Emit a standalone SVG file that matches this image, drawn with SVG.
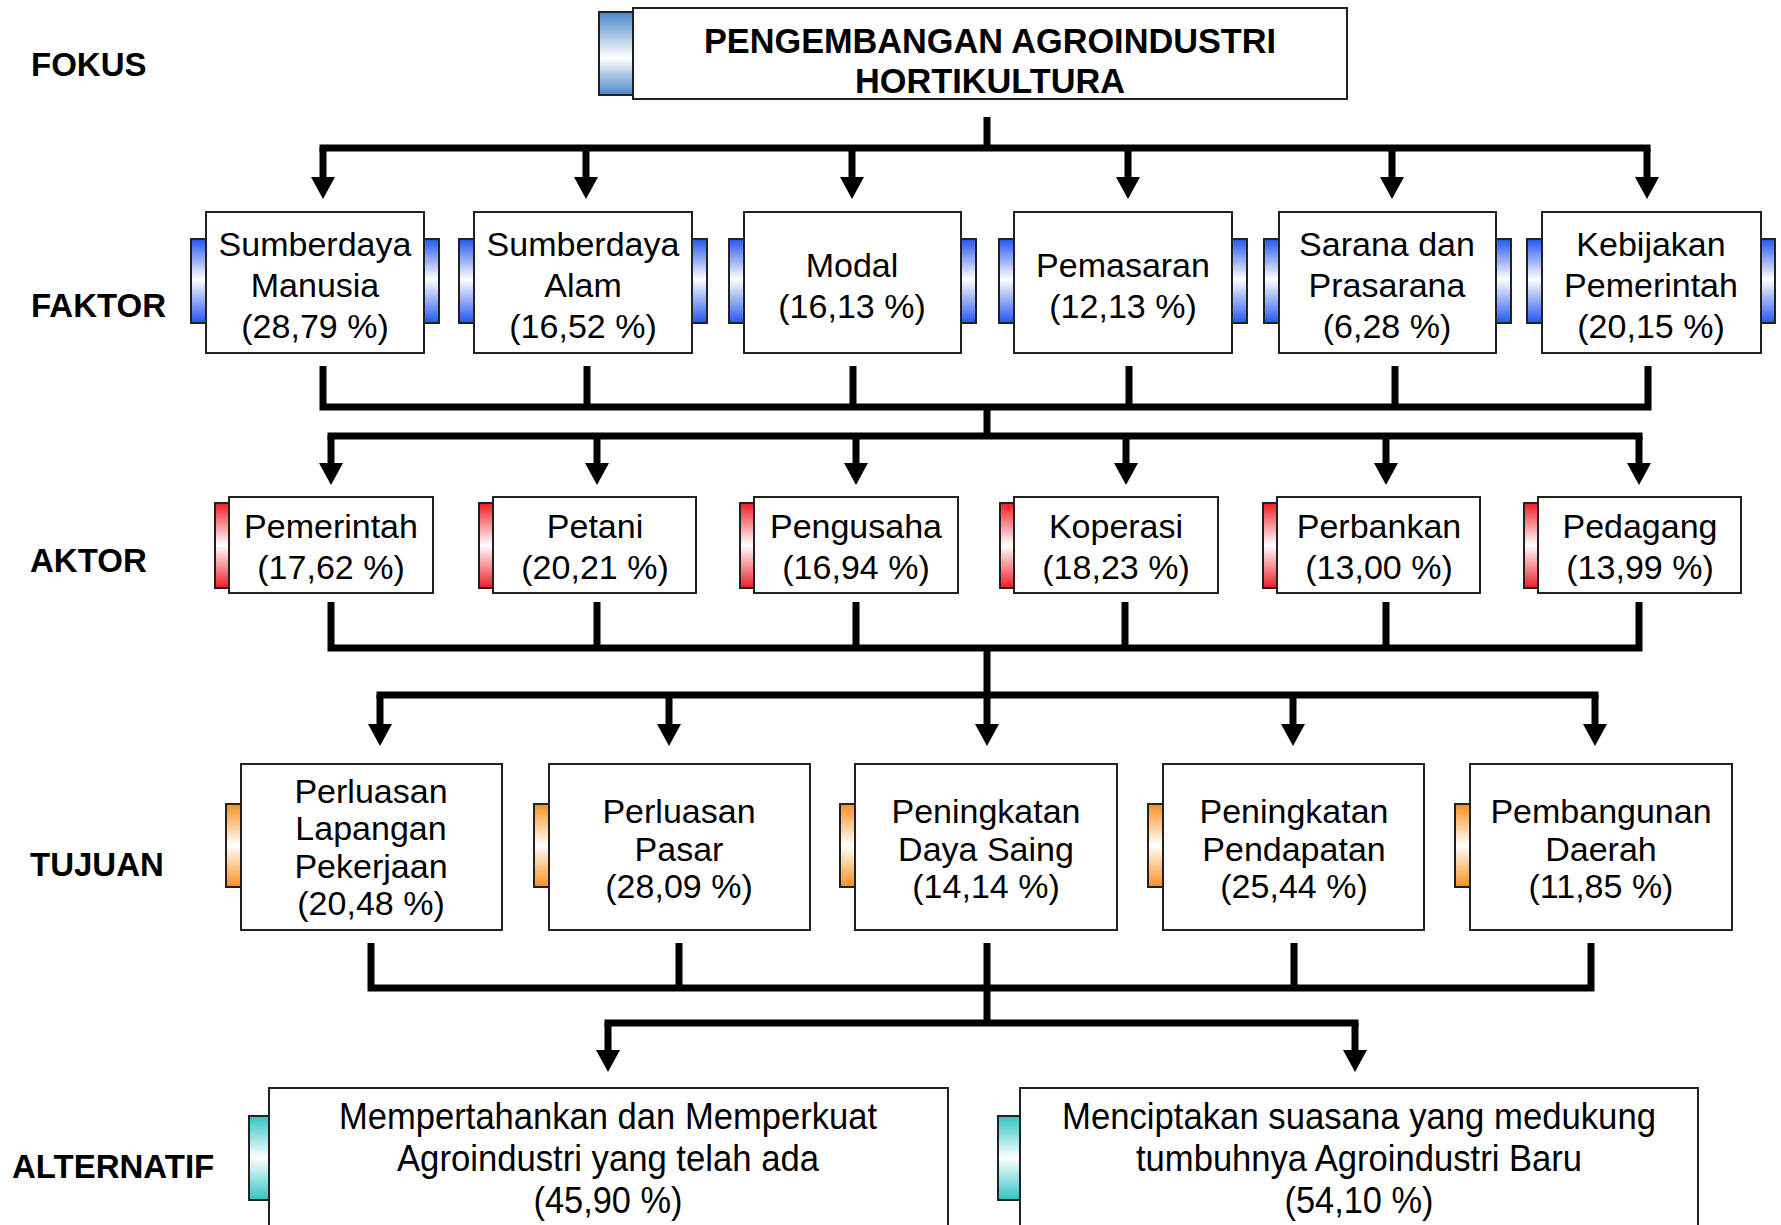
<svg xmlns="http://www.w3.org/2000/svg" width="1781" height="1225" viewBox="0 0 1781 1225">
  <style>
    .lvl { font-family: "Liberation Sans", Arial, sans-serif; font-weight: bold; font-size: 33px; fill: #000; }
    .t { font-family: "Liberation Sans", Arial, sans-serif; font-size: 34px; fill: #000; text-anchor: middle; }
    .tf { font-family: "Liberation Sans", Arial, sans-serif; font-weight: bold; font-size: 35px; fill: #000; text-anchor: middle; }
    .ta { font-family: "Liberation Sans", Arial, sans-serif; font-size: 36px; fill: #000; text-anchor: middle; }
    .box { fill: #fff; stroke: #222; stroke-width: 2; }
    .bar { stroke: #222; stroke-width: 2; }
    .c { fill: none; stroke: #000; stroke-width: 7; stroke-linecap: butt; stroke-linejoin: miter; }
    .a { fill: none; stroke: #000; stroke-width: 7; marker-end: url(#head); }
  </style>
  <defs>
    <marker id="head" markerUnits="userSpaceOnUse" markerWidth="22" markerHeight="24" viewBox="0 0 22 24" refX="0" refY="12" orient="auto">
      <path d="M0,0 L22,12 L0,24 Z" fill="#000"/>
    </marker>
    <linearGradient id="gFocus" x1="0" y1="0" x2="0" y2="1">
      <stop offset="0" stop-color="#4a87c8"/>
      <stop offset="0.55" stop-color="#ffffff"/>
      <stop offset="1" stop-color="#4a87c8"/>
    </linearGradient>
    <linearGradient id="gBlue" x1="0" y1="0" x2="0" y2="1">
      <stop offset="0" stop-color="#2455ee"/>
      <stop offset="0.48" stop-color="#ffffff"/>
      <stop offset="1" stop-color="#2455ee"/>
    </linearGradient>
    <linearGradient id="gRed" x1="0" y1="0" x2="0" y2="1">
      <stop offset="0" stop-color="#ee1c24"/>
      <stop offset="0.5" stop-color="#ffffff"/>
      <stop offset="1" stop-color="#ee1c24"/>
    </linearGradient>
    <linearGradient id="gOrange" x1="0" y1="0" x2="0" y2="1">
      <stop offset="0" stop-color="#f7901e"/>
      <stop offset="0.5" stop-color="#ffffff"/>
      <stop offset="1" stop-color="#f7901e"/>
    </linearGradient>
    <linearGradient id="gTeal" x1="0" y1="0" x2="0" y2="1">
      <stop offset="0" stop-color="#2ec4c4"/>
      <stop offset="0.5" stop-color="#ffffff"/>
      <stop offset="1" stop-color="#2ec4c4"/>
    </linearGradient>
  </defs>

  <rect width="1781" height="1225" fill="#fff"/>

  <!-- level labels -->
  <g id="levels">
    <text class="lvl" x="31" y="76">FOKUS</text>
    <text class="lvl" x="31" y="317">FAKTOR</text>
    <text class="lvl" x="30" y="572">AKTOR</text>
    <text class="lvl" x="30" y="876">TUJUAN</text>
    <text class="lvl" x="12" y="1178">ALTERNATIF</text>
  </g>

  <!-- connectors -->
  <g id="connectors">
    <!-- focus to factors -->
    <path class="c" d="M987,117 V148 M319.5,148 H1650.5"/>
    <path class="a" d="M323,148 V177"/>
    <path class="a" d="M586,148 V177"/>
    <path class="a" d="M852,148 V177"/>
    <path class="a" d="M1128,148 V177"/>
    <path class="a" d="M1392,148 V177"/>
    <path class="a" d="M1647,148 V177"/>

    <!-- factors to actors -->
    <path class="c" d="M323,366 V407 M587,366 V407 M853,366 V407 M1129,366 V407 M1395,366 V407 M1648,366 V407 M319.5,407 H1651.5 M987,407 V436 M327.5,436 H1642.5"/>
    <path class="a" d="M331,436 V463"/>
    <path class="a" d="M597,436 V463"/>
    <path class="a" d="M856,436 V463"/>
    <path class="a" d="M1126,436 V463"/>
    <path class="a" d="M1386,436 V463"/>
    <path class="a" d="M1639,436 V463"/>

    <!-- actors to goals -->
    <path class="c" d="M331,602 V648 M597,602 V648 M856,602 V648 M1125,602 V648 M1386,602 V648 M1639,602 V648 M327.5,648 H1642.5 M376.5,695 H1598.5"/>
    <path class="a" d="M987,648 V724"/>
    <path class="a" d="M380,695 V724"/>
    <path class="a" d="M669,695 V724"/>
    <path class="a" d="M1293,695 V724"/>
    <path class="a" d="M1595,695 V724"/>

    <!-- goals to alternatives -->
    <path class="c" d="M371,943 V988 M679,943 V988 M987,943 V988 M1294,943 V988 M1591,943 V988 M367.5,988 H1594.5 M987,988 V1023 M604.5,1023 H1358.5"/>
    <path class="a" d="M608,1023 V1050"/>
    <path class="a" d="M1355,1023 V1050"/>
  </g>

  <!-- focus -->
  <g id="focus">
    <rect class="bar" x="599" y="12" width="34" height="83" fill="url(#gFocus)"/>
    <rect class="box" x="633" y="8" width="714" height="91"/>
    <text class="tf" x="990" y="53" textLength="572" lengthAdjust="spacingAndGlyphs">PENGEMBANGAN AGROINDUSTRI</text>
    <text class="tf" x="990" y="93" textLength="270" lengthAdjust="spacingAndGlyphs">HORTIKULTURA</text>
  </g>

  <!-- factors -->
  <g id="faktor-sdm">
    <rect class="bar" x="191" y="239" width="15" height="84" fill="url(#gBlue)"/>
    <rect class="bar" x="424" y="239" width="15" height="84" fill="url(#gBlue)"/>
    <rect class="box" x="206" y="212" width="218" height="141"/>
    <text class="t" x="315" y="256">Sumberdaya</text>
    <text class="t" x="315" y="297">Manusia</text>
    <text class="t" x="315" y="338">(28,79 %)</text>
  </g>
  <g id="faktor-sda">
    <rect class="bar" x="459" y="239" width="15" height="84" fill="url(#gBlue)"/>
    <rect class="bar" x="692" y="239" width="15" height="84" fill="url(#gBlue)"/>
    <rect class="box" x="474" y="212" width="218" height="141"/>
    <text class="t" x="583" y="256">Sumberdaya</text>
    <text class="t" x="583" y="297">Alam</text>
    <text class="t" x="583" y="338">(16,52 %)</text>
  </g>
  <g id="faktor-modal">
    <rect class="bar" x="729" y="239" width="15" height="84" fill="url(#gBlue)"/>
    <rect class="bar" x="961" y="239" width="15" height="84" fill="url(#gBlue)"/>
    <rect class="box" x="744" y="212" width="217" height="141"/>
    <text class="t" x="852" y="277">Modal</text>
    <text class="t" x="852" y="318">(16,13 %)</text>
  </g>
  <g id="faktor-pemasaran">
    <rect class="bar" x="999" y="239" width="15" height="84" fill="url(#gBlue)"/>
    <rect class="bar" x="1232" y="239" width="15" height="84" fill="url(#gBlue)"/>
    <rect class="box" x="1014" y="212" width="218" height="141"/>
    <text class="t" x="1123" y="277">Pemasaran</text>
    <text class="t" x="1123" y="318">(12,13 %)</text>
  </g>
  <g id="faktor-sarana">
    <rect class="bar" x="1264" y="239" width="15" height="84" fill="url(#gBlue)"/>
    <rect class="bar" x="1496" y="239" width="15" height="84" fill="url(#gBlue)"/>
    <rect class="box" x="1279" y="212" width="217" height="141"/>
    <text class="t" x="1387" y="256">Sarana dan</text>
    <text class="t" x="1387" y="297">Prasarana</text>
    <text class="t" x="1387" y="338">(6,28 %)</text>
  </g>
  <g id="faktor-kebijakan">
    <rect class="bar" x="1527" y="239" width="15" height="84" fill="url(#gBlue)"/>
    <rect class="bar" x="1761" y="239" width="14" height="84" fill="url(#gBlue)"/>
    <rect class="box" x="1542" y="212" width="219" height="141"/>
    <text class="t" x="1651" y="256">Kebijakan</text>
    <text class="t" x="1651" y="297">Pemerintah</text>
    <text class="t" x="1651" y="338">(20,15 %)</text>
  </g>

  <!-- actors -->
  <g id="aktor-pemerintah">
    <rect class="bar" x="215" y="503" width="14" height="85" fill="url(#gRed)"/>
    <rect class="box" x="229" y="497" width="204" height="96"/>
    <text class="t" x="331" y="538">Pemerintah</text>
    <text class="t" x="331" y="579">(17,62 %)</text>
  </g>
  <g id="aktor-petani">
    <rect class="bar" x="479" y="503" width="14" height="85" fill="url(#gRed)"/>
    <rect class="box" x="493" y="497" width="203" height="96"/>
    <text class="t" x="595" y="538">Petani</text>
    <text class="t" x="595" y="579">(20,21 %)</text>
  </g>
  <g id="aktor-pengusaha">
    <rect class="bar" x="740" y="503" width="14" height="85" fill="url(#gRed)"/>
    <rect class="box" x="754" y="497" width="204" height="96"/>
    <text class="t" x="856" y="538">Pengusaha</text>
    <text class="t" x="856" y="579">(16,94 %)</text>
  </g>
  <g id="aktor-koperasi">
    <rect class="bar" x="1000" y="503" width="14" height="85" fill="url(#gRed)"/>
    <rect class="box" x="1014" y="497" width="204" height="96"/>
    <text class="t" x="1116" y="538">Koperasi</text>
    <text class="t" x="1116" y="579">(18,23 %)</text>
  </g>
  <g id="aktor-perbankan">
    <rect class="bar" x="1263" y="503" width="14" height="85" fill="url(#gRed)"/>
    <rect class="box" x="1277" y="497" width="203" height="96"/>
    <text class="t" x="1379" y="538">Perbankan</text>
    <text class="t" x="1379" y="579">(13,00 %)</text>
  </g>
  <g id="aktor-pedagang">
    <rect class="bar" x="1524" y="503" width="14" height="85" fill="url(#gRed)"/>
    <rect class="box" x="1538" y="497" width="203" height="96"/>
    <text class="t" x="1640" y="538">Pedagang</text>
    <text class="t" x="1640" y="579">(13,99 %)</text>
  </g>

  <!-- goals -->
  <g id="tujuan-lapangan">
    <rect class="bar" x="226" y="804" width="15" height="83" fill="url(#gOrange)"/>
    <rect class="box" x="241" y="764" width="261" height="166"/>
    <text class="t" x="371" y="803">Perluasan</text>
    <text class="t" x="371" y="840">Lapangan</text>
    <text class="t" x="371" y="878">Pekerjaan</text>
    <text class="t" x="371" y="915">(20,48 %)</text>
  </g>
  <g id="tujuan-pasar">
    <rect class="bar" x="534" y="804" width="15" height="83" fill="url(#gOrange)"/>
    <rect class="box" x="549" y="764" width="261" height="166"/>
    <text class="t" x="679" y="823">Perluasan</text>
    <text class="t" x="679" y="861">Pasar</text>
    <text class="t" x="679" y="898">(28,09 %)</text>
  </g>
  <g id="tujuan-dayasaing">
    <rect class="bar" x="840" y="804" width="15" height="83" fill="url(#gOrange)"/>
    <rect class="box" x="855" y="764" width="262" height="166"/>
    <text class="t" x="986" y="823">Peningkatan</text>
    <text class="t" x="986" y="861">Daya Saing</text>
    <text class="t" x="986" y="898">(14,14 %)</text>
  </g>
  <g id="tujuan-pendapatan">
    <rect class="bar" x="1148" y="804" width="15" height="83" fill="url(#gOrange)"/>
    <rect class="box" x="1163" y="764" width="261" height="166"/>
    <text class="t" x="1294" y="823">Peningkatan</text>
    <text class="t" x="1294" y="861">Pendapatan</text>
    <text class="t" x="1294" y="898">(25,44 %)</text>
  </g>
  <g id="tujuan-daerah">
    <rect class="bar" x="1455" y="804" width="15" height="83" fill="url(#gOrange)"/>
    <rect class="box" x="1470" y="764" width="262" height="166"/>
    <text class="t" x="1601" y="823">Pembangunan</text>
    <text class="t" x="1601" y="861">Daerah</text>
    <text class="t" x="1601" y="898">(11,85 %)</text>
  </g>

  <!-- alternatives -->
  <g id="alternatif-lama">
    <rect class="bar" x="249" y="1116" width="20" height="84" fill="url(#gTeal)"/>
    <rect class="box" x="269" y="1088" width="679" height="150"/>
    <text class="ta" x="608" y="1129" textLength="538" lengthAdjust="spacingAndGlyphs">Mempertahankan dan Memperkuat</text>
    <text class="ta" x="608" y="1171" textLength="422" lengthAdjust="spacingAndGlyphs">Agroindustri yang telah ada</text>
    <text class="ta" x="608" y="1213" textLength="149" lengthAdjust="spacingAndGlyphs">(45,90 %)</text>
  </g>
  <g id="alternatif-baru">
    <rect class="bar" x="998" y="1116" width="22" height="84" fill="url(#gTeal)"/>
    <rect class="box" x="1020" y="1088" width="678" height="150"/>
    <text class="ta" x="1359" y="1129" textLength="594" lengthAdjust="spacingAndGlyphs">Menciptakan suasana yang medukung</text>
    <text class="ta" x="1359" y="1171" textLength="446" lengthAdjust="spacingAndGlyphs">tumbuhnya Agroindustri Baru</text>
    <text class="ta" x="1359" y="1213" textLength="149" lengthAdjust="spacingAndGlyphs">(54,10 %)</text>
  </g>
</svg>
